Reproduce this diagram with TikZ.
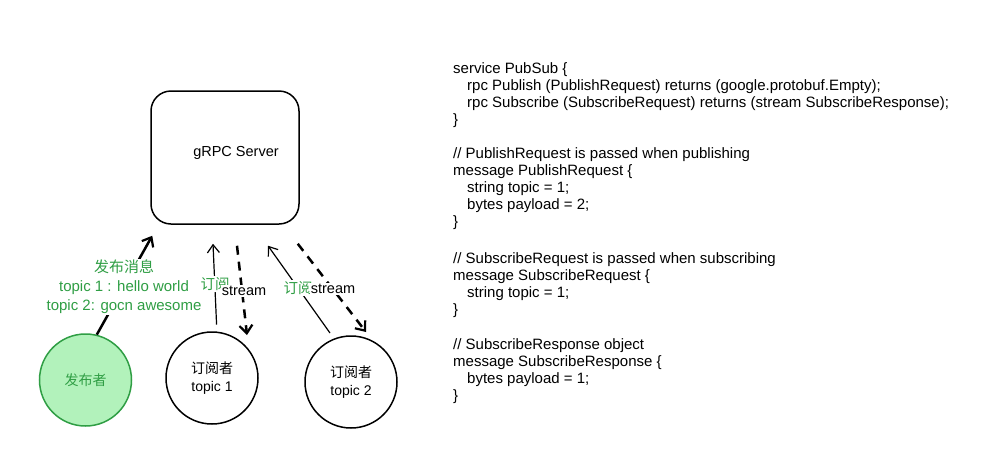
\documentclass[tikz,border=0pt]{standalone}
\usepackage{fontspec}
\setmainfont{Liberation Sans}
\newfontfamily\cjk{Noto Sans CJK SC}
\usetikzlibrary{arrows.meta,calc}
\definecolor{egreen}{HTML}{2F9E44}
\definecolor{lgreen}{HTML}{B2F2BB}
\begin{document}
\begin{tikzpicture}[x=1pt,y=-1pt,
  txt/.style={font=\fontsize{14.5}{17}\selectfont, inner sep=0pt},
  code/.style={inner sep=0pt, font=\fontsize{15}{17}\selectfont, anchor=base west},
  circ/.style={circle, draw=black, line width=1.5pt, minimum size=92pt, inner sep=0pt, align=center, font=\fontsize{14}{18}\selectfont},
  thickarrow/.style={line width=2.5pt, -{Straight Barb[length=8pt,width=13pt,line width=2.2pt]}},
  thinarrow/.style={line width=1.2pt, -{Straight Barb[length=8pt,width=12pt,line width=1.2pt]}},
  dasharrow/.style={line width=2.5pt, dash pattern=on 9pt off 7pt, -{Straight Barb[length=8pt,width=13pt,line width=2.2pt]}},
  lbl/.style={txt, fill=white, inner sep=1pt}
]
\useasboundingbox (0,0) rectangle (1002,453);
\fill[white] (0,0) rectangle (1002,453);

% server
\node[draw, line width=1.5pt, rounded corners=20pt, minimum width=148pt, minimum height=133pt] (srv) at (225,157.5) {};
\node[txt] (srvlbl) at (236,153) {gRPC Server};

% circles
\node[circ, fill=lgreen, draw=egreen, text=egreen] (pub) at (85.5,380) {\cjk 发布者};
\node[circ] (s1) at (212,378) {{\cjk 订阅者}\\topic 1};
\node[circ] (s2) at (351,382) {{\cjk 订阅者}\\topic 2};

% arrows
\draw[thickarrow] (pub.76) -- ($(srv.south west)+(2,11)$);
\draw[thinarrow, shorten <=7pt] (s1.84) -- ($(srv.south)+(-12,19)$);
\draw[dasharrow] ($(srv.south)+(12,21)$) -- ($(s1.center)+(35,-43)$);
\draw[thinarrow] ($(s2.center)+(-21,-49)$) -- ($(srv.south)+(43,21)$);
\draw[dasharrow] ($(srv.south east)+(-2,19)$) -- ($(s2.center)+(15,-50)$);

% labels
\node[lbl, text=egreen, align=center, font=\fontsize{15}{19}\selectfont] (publbl) at (124,287) {{\cjk 发布消息}\\topic 1 : hello world\\topic 2: gocn awesome};
\node[lbl, text=egreen] (sub1lbl) at (215,284) {\cjk 订阅};
\node[lbl] (st1lbl) at (244,291) {stream};
\node[lbl, text=egreen] (sub2lbl) at (298,288) {\cjk 订阅};
\node[lbl] (st2lbl) at (333,289) {stream};

% code
\node[code] (c1) at (453,73) {service PubSub \{};
\node[code] (c2) at (467,90) {rpc Publish (PublishRequest) returns (google.protobuf.Empty);};
\node[code] (c3) at (467,107) {rpc Subscribe (SubscribeRequest) returns (stream SubscribeResponse);};
\node[code] (c4) at (453,124) {\}};
\node[code] (c5) at (453,158) {// PublishRequest is passed when publishing};
\node[code] (c6) at (453,175) {message PublishRequest \{};
\node[code] (c7) at (467,192) {string topic = 1;};
\node[code] (c8) at (467,209) {bytes payload = 2;};
\node[code] (c9) at (453,226) {\}};
\node[code] (c10) at (453,263) {// SubscribeRequest is passed when subscribing};
\node[code] (c11) at (453,280) {message SubscribeRequest \{};
\node[code] (c12) at (467,297) {string topic = 1;};
\node[code] (c13) at (453,314) {\}};
\node[code] (c14) at (453,349) {// SubscribeResponse object};
\node[code] (c15) at (453,366) {message SubscribeResponse \{};
\node[code] (c16) at (467,383) {bytes payload = 1;};
\node[code] (c17) at (453,400) {\}};
\end{tikzpicture}
\end{document}
